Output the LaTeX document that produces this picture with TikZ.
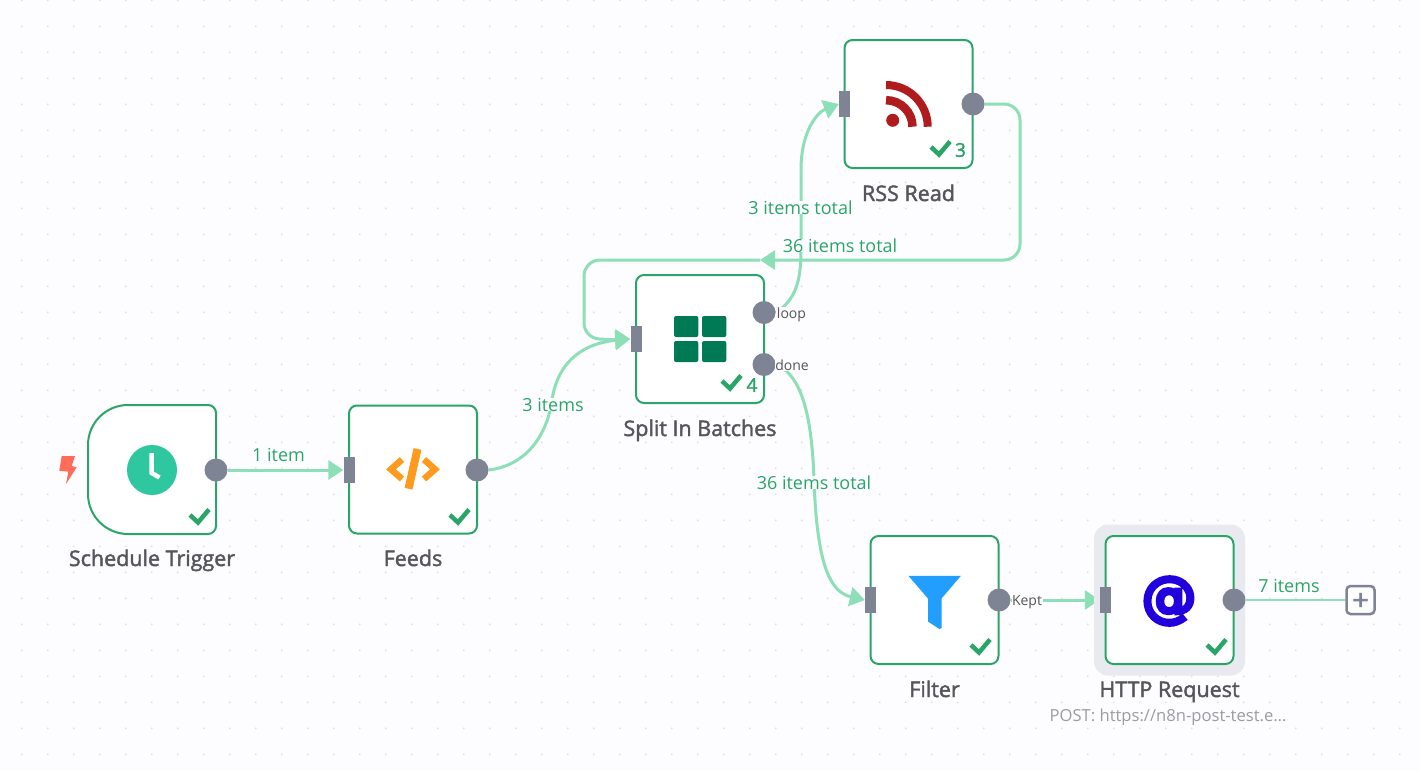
\documentclass[tikz,border=0pt]{standalone}
\usepackage{fontspec}
\setmainfont{Open Sans}
\newfontfamily\semifont{Open Sans}[FakeBold=1.8]
\newfontfamily\iconfont{DejaVu Sans}[FakeBold=8]
\newfontfamily\plusfont{DejaVu Sans}[FakeBold=3]
\usetikzlibrary{arrows.meta,backgrounds}
\definecolor{FLbg}{RGB}{253,253,255}
\definecolor{FLdot}{RGB}{222,222,228}
\definecolor{FLgreen}{RGB}{42,165,104}
\definecolor{FLmint}{RGB}{140,223,182}
\definecolor{FLport}{RGB}{126,132,148}
\definecolor{FLtext}{RGB}{85,85,90}
\definecolor{FLsub}{RGB}{155,155,163}
\definecolor{FLhalo}{RGB}{233,234,240}
\definecolor{ICbolt}{RGB}{255,109,90}
\definecolor{ICclock}{RGB}{47,199,160}
\definecolor{ICcode}{RGB}{255,154,31}
\definecolor{ICgrid}{RGB}{0,122,84}
\definecolor{ICrss}{RGB}{176,28,30}
\definecolor{ICfunnel}{RGB}{34,158,255}
\definecolor{ICat}{RGB}{34,0,221}
\tikzset{
  nodebox/.style={rounded corners=8pt,draw=FLgreen,line width=2pt,fill=white,
                  minimum width=128pt,minimum height=128pt,inner sep=0pt},
  trigbox/.style={minimum width=128pt,minimum height=128pt,inner sep=0pt},
  inport/.style={fill=FLport,minimum width=11pt,minimum height=26pt,inner sep=0pt},
  outport/.style={circle,fill=FLport,minimum size=23pt,inner sep=0pt},
  title/.style={anchor=base,text=FLtext,inner sep=0pt,font=\fontsize{21.5}{24}\semifont},
  subtitle/.style={anchor=base,text=FLsub,inner sep=0pt,font=\fontsize{16.6}{20}\selectfont},
  count/.style={text=FLgreen,inner sep=0pt,font=\fontsize{19}{22}\semifont},
  elabel/.style={anchor=base,text=FLgreen,fill=FLbg,inner xsep=1pt,inner ysep=0pt,text height=13pt,text depth=0pt,
                 font=\fontsize{18}{22}\selectfont},
  plabel/.style={anchor=base,text=FLtext,fill=FLbg,inner sep=0.5pt,font=\fontsize{14}{17}\selectfont},
  fl/.style={-{Triangle[length=15pt,width=19pt]},line width=3pt,draw=FLmint},
  okmark/.style={draw=FLgreen,line width=4.5pt},
}
\begin{document}
\begin{tikzpicture}[x=1pt,y=-1pt]
  \useasboundingbox (0,0) rectangle (1420,771);
  \begin{scope}[on background layer]
    \fill[FLbg] (0,0) rectangle (1420,771);
    \foreach \i in {0,...,54}
      \foreach \j in {0,...,29}
        \fill[FLdot] (21.7+26*\i,0.3+26*\j) circle (1);
  \end{scope}

  % halo sits under the last box
  \node[fill=FLhalo,rounded corners=14pt,minimum width=151pt,minimum height=151pt,inner sep=0pt] (httpHalo) at (1169.5,600) {};

  % boxes
  \node[trigbox] (trigger) at (152,469.5) {};
  \draw[draw=FLgreen,line width=2pt,fill=white] (128,405) -- (208,405) arc (-90:0:8) -- (216,526) arc (0:90:8)
    -- (128,534) arc (90:180:40) -- (88,445) arc (180:270:40) -- cycle;
  \node[nodebox] (feeds) at (413,469.5) {};
  \node[nodebox] (split) at (700,339) {};
  \node[nodebox] (rss) at (908.5,104) {};
  \node[nodebox] (filter) at (934.5,600) {};
  \node[nodebox] (http) at (1169.5,600) {};

  % ports
  \node[outport] (triggerOut) at (216,470) {};
  \node[inport] (feedsIn) at (349,470) {};
  \node[outport] (feedsOut) at (477,470) {};
  \node[inport] (splitIn) at (636,339) {};
  \node[outport] (splitLoop) at (764,312.5) {};
  \node[outport] (splitDone) at (764,364.5) {};
  \node[inport] (rssIn) at (844.5,104) {};
  \node[outport] (rssOut) at (973,104) {};
  \node[inport] (filterIn) at (870.5,600) {};
  \node[outport] (filterOut) at (999,600) {};
  \node[inport] (httpIn) at (1105.5,600) {};
  \node[outport] (httpOut) at (1234,600) {};
  \node[draw=FLport,line width=2.5pt,rounded corners=4pt,fill=FLbg,text=FLport,minimum size=28pt,inner sep=0pt,
        font=\fontsize{22}{22}\plusfont] (addBtn) at (1360.5,600) {+};
  \coordinate (backTip) at (760,260);
  \coordinate (backJoin) at (604,339);

  % connectors
  \begin{scope}[on background layer]
    \draw[fl] (triggerOut) -- (feedsIn.west);
    \draw[fl] (feedsOut.east) .. controls (530,465) and (548,430) .. (552,400)
      .. controls (558,360) and (585,343) .. (splitIn.west);
    \draw[fl] (splitLoop.east) .. controls (796,300) and (801,280) .. (801,250) -- (801,170)
      .. controls (801,130) and (818,112) .. (rssIn.west);
    \draw[fl,rounded corners=16pt] (rssOut.east) -- (1020,104) -- (1020,260) -- (backTip);
    \draw[draw=FLmint,line width=3pt,rounded corners=16pt] (backTip) -- (584,260) -- (584,339) -- (backJoin);
    \draw[fl] (backJoin) -- (splitIn.west);
    \draw[fl] (splitDone.east) .. controls (803,375) and (812,420) .. (814,480)
      .. controls (817,565) and (830,592) .. (filterIn.west);
    \draw[fl] (filterOut) -- (httpIn.west);
    \draw[draw=FLmint,line width=2pt] (httpOut) -- (addBtn);
  \end{scope}

  % edge labels
  \node[elabel] (lbOne) at (278.5,461) {1 item};
  \node[elabel] (lbThree) at (553,411) {3 items};
  \node[elabel] (lbRss) at (800.5,214) {3 items total};
  \node[elabel] (lbBack) at (840,252) {36 items total};
  \node[elabel] (lbDone) at (814,489) {36 items total};
  \node[elabel] (lbSeven) at (1289,592) {7 items};
  \node[plabel] (lbLoop) at (791.5,318) {loop};
  \node[plabel] (lbDoneP) at (792,370) {done};
  \node[plabel] (lbKept) at (1027,605) {Kept};

  % titles
  \node[title] (triggerT) at (152,566) {Schedule Trigger};
  \node[title] (feedsT) at (413,566) {Feeds};
  \node[title] (splitT) at (700,436) {Split In Batches};
  \node[title] (rssT) at (908.5,201) {RSS Read};
  \node[title] (filterT) at (934.5,697) {Filter};
  \node[title] (httpT) at (1169.5,697) {HTTP Request};
  \node[subtitle] (httpS) at (1168,721) {POST: https://n8n-post-test.e…};

  % check marks and counts
  \draw[okmark] (190,515) -- ++(8,7.5) -- ++(11,-13);
  \draw[okmark] (450,515) -- ++(8,7.5) -- ++(11,-13);
  \draw[okmark] (722,381) -- ++(8,7.5) -- ++(11,-13);
  \draw[okmark] (931,147) -- ++(8,7.5) -- ++(11,-13);
  \draw[okmark] (971,645) -- ++(8,7.5) -- ++(11,-13);
  \draw[okmark] (1207,645) -- ++(8,7.5) -- ++(11,-13);
  \node[count] (splitC) at (752,385) {4};
  \node[count] (rssC) at (960.5,150) {3};

  % icons
  \fill[ICbolt] (61.7,456) -- (75,456) -- (71.7,466) -- (76.7,467.3) -- (66,484) -- (68.3,471.7) -- (59.3,470.7) -- cycle;
  \fill[ICclock] (152,470) circle (25);
  \draw[white,line width=4.5pt] (151.7,453) -- (151.7,473) -- (159.5,477.5);
  \draw[ICcode,line width=6.5pt] (402,459.5) -- (391,469.3) -- (402,479);
  \draw[ICcode,line width=6.5pt] (424,459.5) -- (435,469.3) -- (424,479);
  \draw[ICcode,line width=8pt] (417.5,449) -- (408.5,488.7);
  \foreach \gx in {674,702}
    \foreach \gy in {316,341}
      \fill[ICgrid,rounded corners=2pt] (\gx,\gy) rectangle ++(24.3,21);
  \fill[ICrss] (892.7,120.3) circle (6.5);
  \draw[ICrss,line width=8.5pt] (886,100.2) arc (-90:0:26.5);
  \draw[ICrss,line width=8pt] (886,85) arc (-90:0:41.7);
  \fill[ICfunnel] (908.5,575.9) -- (960.8,575.9) -- (941.5,598.6) -- (941.5,628) -- (939.5,629) -- (928,621.6) -- (928,598.6) -- cycle;
  \node[text=ICat,inner sep=0pt,font=\fontsize{54}{54}\iconfont] (httpIcon) at (1169,601) {@};
\end{tikzpicture}
\end{document}
